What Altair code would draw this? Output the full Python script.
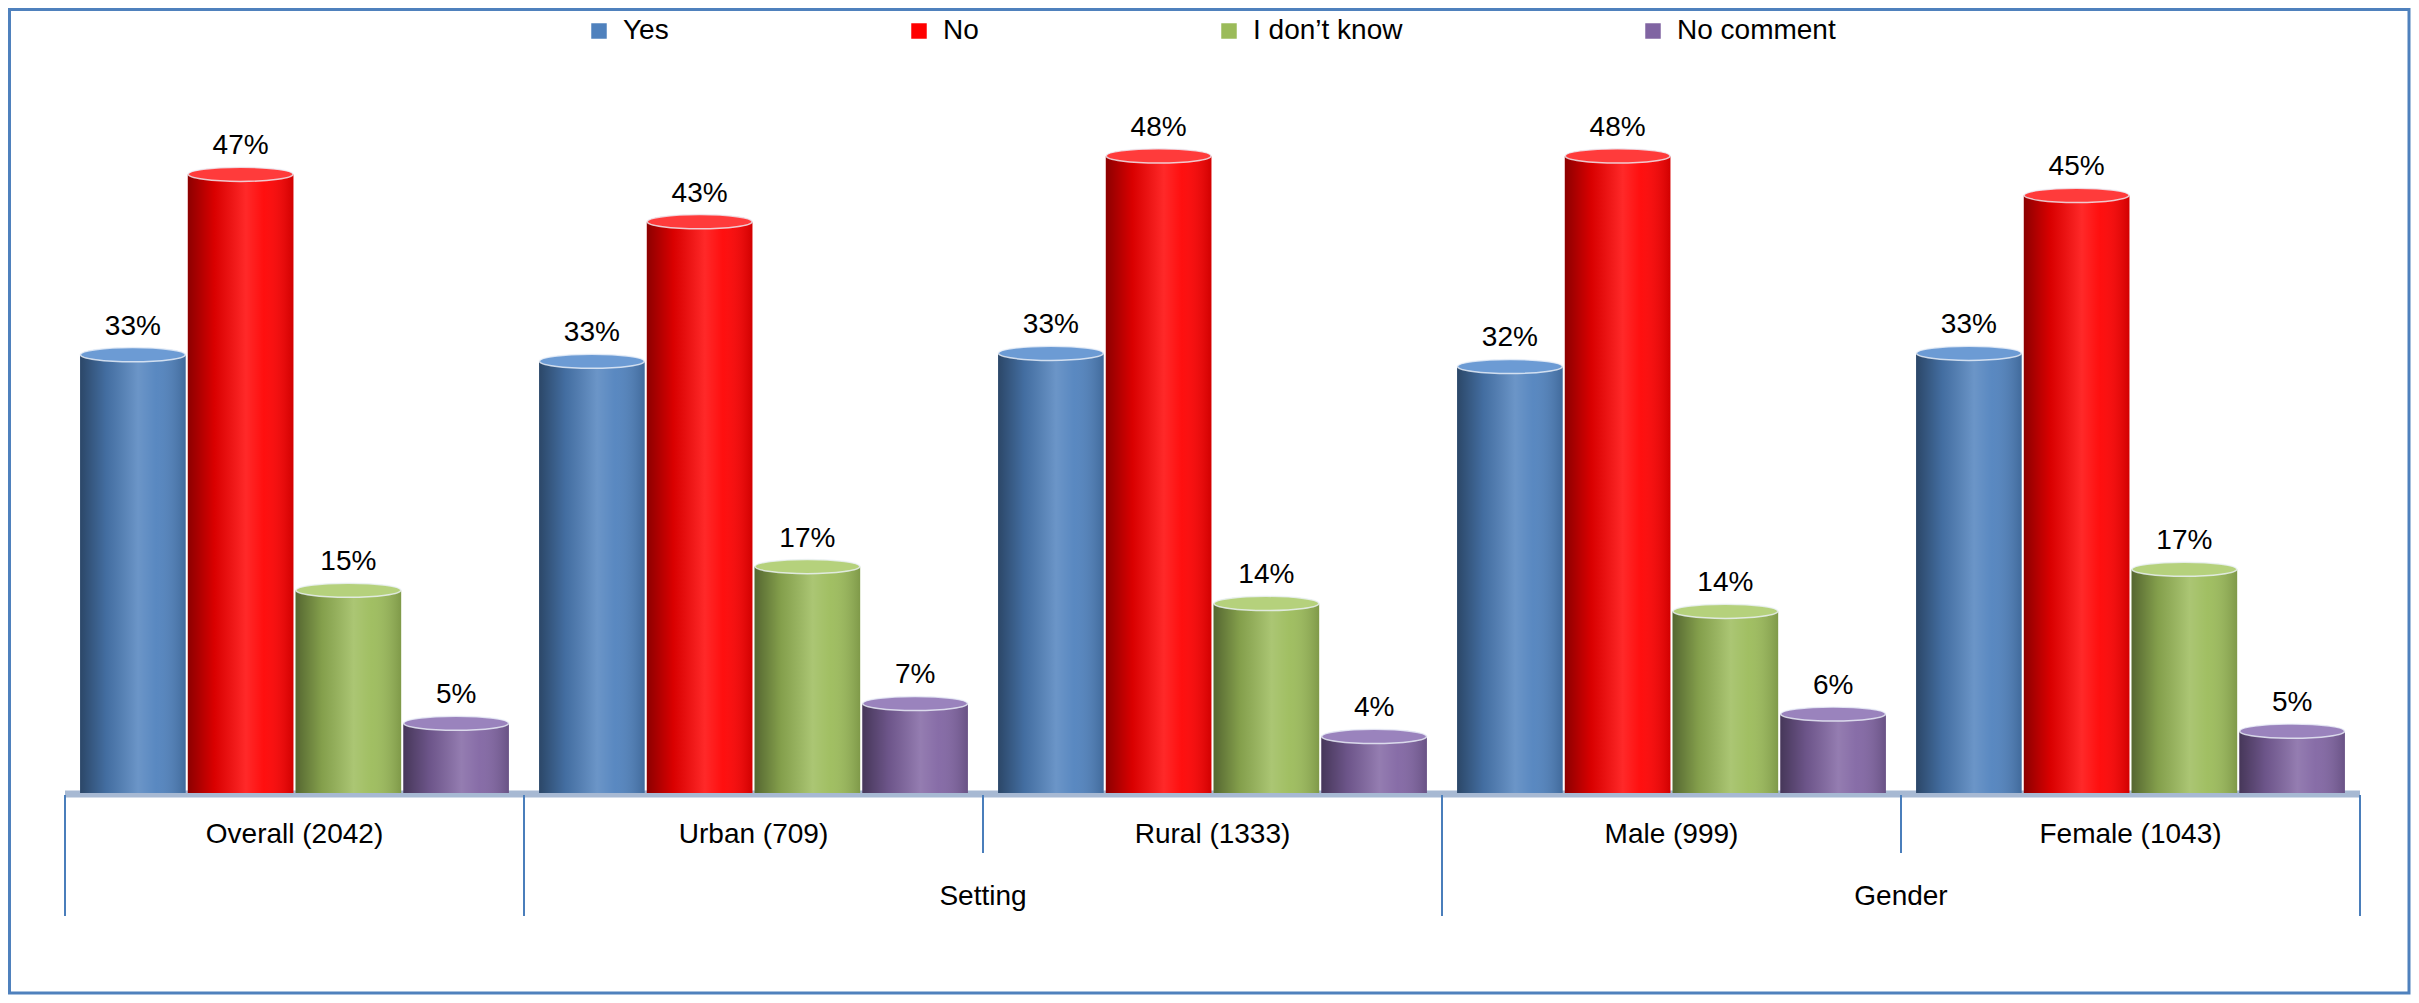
import altair as alt
import pandas as pd

# ---- data ----
categories = ["Overall (2042)", "Urban (709)", "Rural (1333)", "Male (999)", "Female (1043)"]
responses = ["Yes", "No", "I don\u2019t know", "No comment"]
yes_vals = [33.3, 32.8, 33.4, 32.4, 33.4]
no_vals = [47.0, 43.4, 48.4, 48.4, 45.4]
idk_vals = [15.4, 17.2, 14.4, 13.8, 17.0]
nc_vals = [5.3, 6.8, 4.3, 6.0, 4.7]

group_labels = ["Setting", "Gender"]
group_anchor = ["Rural (1333)", "Female (1043)"]      # group label sits at the start of these bands
long_tick_starts = ["Overall (2042)", "Urban (709)", "Male (999)"]
long_tick_ends = ["Female (1043)"]
short_tick_starts = ["Rural (1333)", "Female (1043)"]

colors = ["#4f81bd", "#ff0000", "#9bbb59", "#8064a2"]
cap_colors = ["#6c9bd4", "#ff3b3b", "#b5d17c", "#9a83bd"]

FONT = "Liberation Sans"
W, H = 2295, 724

rows = []
for series, vals in zip(responses, [yes_vals, no_vals, idk_vals, nc_vals]):
    for c, v in zip(categories, vals):
        rows.append({"cat": c, "response": series, "value": v})
df = pd.DataFrame(rows)

x_enc = alt.X("cat:N", scale=alt.Scale(domain=categories, paddingInner=0, paddingOuter=0), axis=None)
xo_enc = alt.XOffset("response:N", scale=alt.Scale(domain=responses, paddingInner=0.02, paddingOuter=0.14))
y_enc = alt.Y("value:Q", scale=alt.Scale(domain=[0, 55], nice=False), axis=None)

one = pd.DataFrame({"k": [0]})

border = alt.Chart(one).mark_rect(fill="transparent", stroke="#4f81bd", strokeWidth=3).encode(
    x=alt.value(-55.5), x2=alt.value(2344), y=alt.value(-59.5), y2=alt.value(924)
)

floor = alt.Chart(one).mark_rule(color="#a7b9d3", strokeWidth=7).encode(
    x=alt.value(0), x2=alt.value(W), y=alt.value(H + 1)
)

bars = alt.Chart(df).mark_bar().encode(
    x=x_enc, xOffset=xo_enc, y=y_enc,
    color=alt.Color("response:N",
                    scale=alt.Scale(domain=responses, range=colors),
                    legend=alt.Legend(orient="none", legendX=520, legendY=-52,
                                      direction="horizontal", title=None,
                                      symbolType="square", symbolSize=240,
                                      symbolStrokeWidth=0, labelFont=FONT,
                                      labelFontSize=28, labelColor="black",
                                      labelOffset=10, labelLimit=400,
                                      columnPadding=236, padding=0)),
)

shade = alt.Chart(df).mark_bar(
    fill={"gradient": "linear", "x1": 0, "x2": 1, "y1": 0, "y2": 0,
          "stops": [
              {"offset": 0, "color": "rgba(0,0,0,0.45)"},
              {"offset": 0.25, "color": "rgba(0,0,0,0.15)"},
              {"offset": 0.55, "color": "rgba(255,255,255,0.16)"},
              {"offset": 0.72, "color": "rgba(255,255,255,0.06)"},
              {"offset": 1, "color": "rgba(0,0,0,0.18)"},
          ]}
).encode(x="cat:N", xOffset="response:N", y="value:Q")

ellipse = "M-1,0A1,0.135,0,1,0,1,0A1,0.135,0,1,0,-1,0Z"
caps = alt.Chart(df).mark_point(shape=ellipse, filled=True, size=11025, opacity=1,
                                stroke="#eef3fa", strokeWidth=1.5, strokeOpacity=0.8).encode(
    x="cat:N", xOffset="response:N", y="value:Q",
    fill=alt.Fill("response:N", scale=alt.Scale(domain=responses, range=cap_colors), legend=None),
)

labels = alt.Chart(df).transform_calculate(
    lab="format(datum.value / 100, '.0%')"
).mark_text(font=FONT, fontSize=28, dy=-20, baseline="alphabetic", color="black").encode(
    x="cat:N", xOffset="response:N", y="value:Q", text="lab:N"
)

cat_df = pd.DataFrame({"cat": categories})
cat_text = alt.Chart(cat_df).mark_text(font=FONT, fontSize=28, baseline="middle", color="black").encode(
    x="cat:N", y=alt.value(H + 42), text="cat:N"
)

grp_df = pd.DataFrame({"cat": group_anchor, "label": group_labels})
grp_text = alt.Chart(grp_df).mark_text(font=FONT, fontSize=28, baseline="middle", color="black").encode(
    x=alt.X("cat:N", bandPosition=0), y=alt.value(H + 104), text="label:N"
)

tick_color = "#4a7ebb"
long_a = alt.Chart(pd.DataFrame({"cat": long_tick_starts})).mark_rule(color=tick_color, strokeWidth=2).encode(
    x=alt.X("cat:N", bandPosition=0), y=alt.value(H + 2), y2=alt.value(H + 123)
)
long_b = alt.Chart(pd.DataFrame({"cat": long_tick_ends})).mark_rule(color=tick_color, strokeWidth=2).encode(
    x=alt.X("cat:N", bandPosition=1), y=alt.value(H + 2), y2=alt.value(H + 123)
)
short_t = alt.Chart(pd.DataFrame({"cat": short_tick_starts})).mark_rule(color=tick_color, strokeWidth=2).encode(
    x=alt.X("cat:N", bandPosition=0), y=alt.value(H + 2), y2=alt.value(H + 60)
)

chart = alt.layer(
    border, floor, bars, shade, caps, labels, cat_text, grp_text, long_a, long_b, short_t
).resolve_scale(
    color="independent", fill="independent"
).properties(
    width=W, height=H, padding=0, background="white"
).configure_view(stroke=None)

chart.save("out.html", embed_options={"renderer": "svg", "actions": False})
